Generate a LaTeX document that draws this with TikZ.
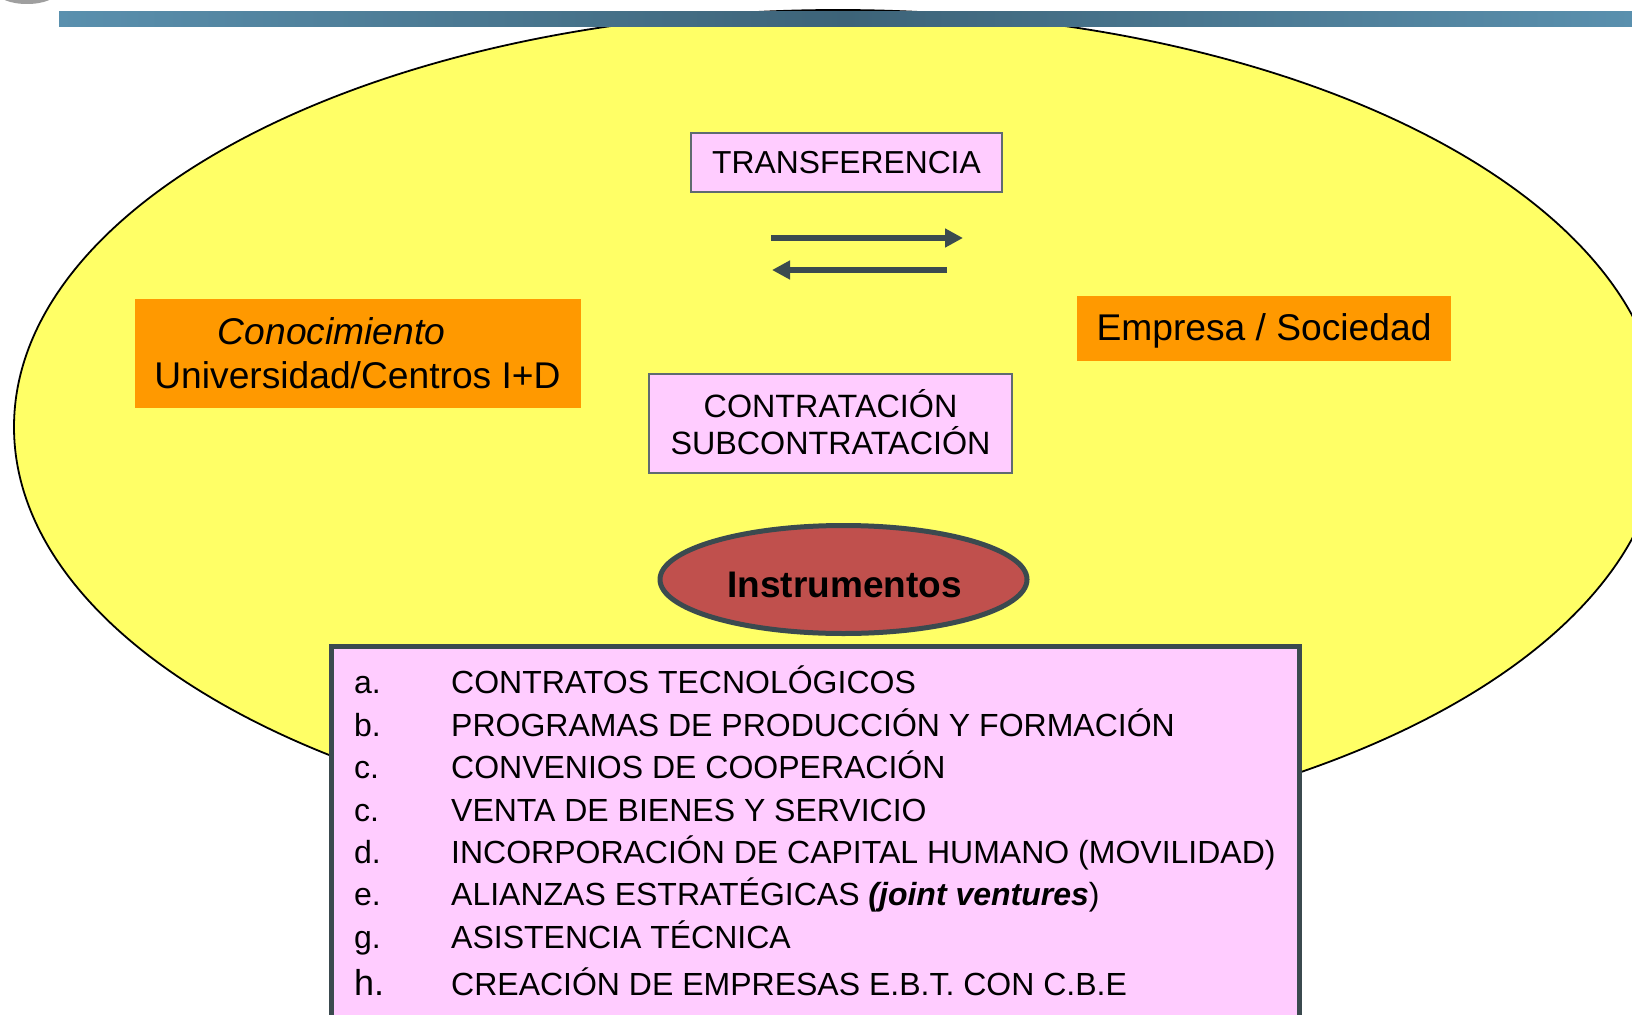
\documentclass[tikz,border=0pt]{standalone}
\usepackage{fontspec}
\setmainfont{Liberation Sans}
\usetikzlibrary{arrows.meta,shapes.geometric}
\definecolor{bgyellow}{HTML}{FFFF66}
\definecolor{boxorange}{HTML}{FF9900}
\definecolor{boxpink}{HTML}{FFCCFF}
\definecolor{slate}{HTML}{3B4A4F}
\definecolor{pinkedge}{HTML}{5F6B70}
\definecolor{instred}{HTML}{C0504D}
\definecolor{barlight}{HTML}{5A90AE}
\definecolor{bardark}{HTML}{3D6378}
\tikzset{
  pinkbox/.style={draw=pinkedge, line width=1.5pt, fill=boxpink, inner sep=0pt},
  orangebox/.style={fill=boxorange, inner sep=0pt},
  txt/.style={anchor=base, inner sep=0pt},
  bigtxt/.style={txt, font=\fontsize{37.2}{44}\selectfont},
  midtxt/.style={txt, font=\fontsize{32.3}{37}\selectfont},
  itemtxt/.style={anchor=base west, inner sep=0pt, font=\fontsize{32}{38}\selectfont},
  flowarrow/.style={draw=slate, line width=6pt, -{Triangle[length=18pt,width=18pt]}}
}
\begin{document}
\begin{tikzpicture}[x=1pt,y=-1pt]
\useasboundingbox (0,0) rectangle (1632,1014);
\clip (0,0) rectangle (1632,1014);
% logo fragment
\fill[gray!75] (27,-8) ellipse [x radius=30pt, y radius=12pt];
% big ellipse
\draw[fill=bgyellow, line width=1.8pt] (838,427) ellipse [x radius=824pt, y radius=417pt];
% top bar
\shade[left color=barlight, right color=barlight, middle color=bardark] (59,11.5) rectangle (1632,27);
% boxes
\node[orangebox, minimum width=446pt, minimum height=109pt] (con) at (358,353.5) {};
\node[txt, font=\fontsize{37.2}{44}\selectfont\itshape] (cont) at (331.5,344) {Conocimiento};
\node[bigtxt] (unit) at (357.5,388) {Universidad/Centros I+D};
\node[orangebox, minimum width=374pt, minimum height=65pt] (emp) at (1264,328.5) {};
\node[bigtxt] (empt) at (1264,340) {Empresa / Sociedad};
\node[pinkbox, minimum width=311pt, minimum height=59pt] (tr) at (846.5,162.5) {};
\node[txt, font=\fontsize{31.8}{37}\selectfont] (trt) at (846.5,173) {TRANSFERENCIA};
\node[pinkbox, minimum width=363pt, minimum height=99pt] (ct) at (830.5,423.5) {};
\node[midtxt] (ct1) at (830.5,417) {CONTRATACIÓN};
\node[midtxt] (ct2) at (830.5,454) {SUBCONTRATACIÓN};
% arrows
\coordinate (a1s) at (771,238);
\coordinate (a1e) at (963,238);
\coordinate (a2s) at (947,270);
\coordinate (a2e) at (772,270);
\draw[flowarrow] (a1s) -- (a1e);
\draw[flowarrow] (a2s) -- (a2e);
% instrumentos
\node[ellipse, draw=slate, line width=5pt, fill=instred, minimum width=367pt, minimum height=108pt, inner sep=0pt] (ins) at (843.5,579.5) {};
\node[txt, font=\fontsize{37}{44}\selectfont\bfseries] (inst) at (844.5,597) {Instrumentos};
% list box
\draw[draw=slate, line width=5pt, fill=boxpink] (331.5,646) rectangle (1299.5,1040);
\node[itemtxt] (la) at (354,693) {a.};
\node[itemtxt] (ta) at (451,693) {CONTRATOS TECNOLÓGICOS};
\node[itemtxt] (lb) at (354,736) {b.};
\node[itemtxt] (tb) at (451,736) {PROGRAMAS DE PRODUCCIÓN Y FORMACIÓN};
\node[itemtxt] (lc) at (354,778) {c.};
\node[itemtxt] (tc) at (451,778) {CONVENIOS DE COOPERACIÓN};
\node[itemtxt] (lc2) at (354,821) {c.};
\node[itemtxt] (tc2) at (451,821) {VENTA DE BIENES Y SERVICIO};
\node[itemtxt] (ld) at (354,863) {d.};
\node[itemtxt] (td) at (451,863) {INCORPORACIÓN DE CAPITAL HUMANO (MOVILIDAD)};
\node[itemtxt] (le) at (354,905) {e.};
\node[itemtxt] (te) at (451,905) {ALIANZAS ESTRATÉGICAS \textbf{\textit{(joint ventures}})};
\node[itemtxt] (lg) at (354,948) {g.};
\node[itemtxt] (tg) at (451,948) {ASISTENCIA TÉCNICA};
\node[itemtxt, font=\fontsize{36}{42}\selectfont] (lh) at (354,995) {h.};
\node[itemtxt] (th) at (451,995) {CREACIÓN DE EMPRESAS E.B.T. CON C.B.E};
\end{tikzpicture}
\end{document}
